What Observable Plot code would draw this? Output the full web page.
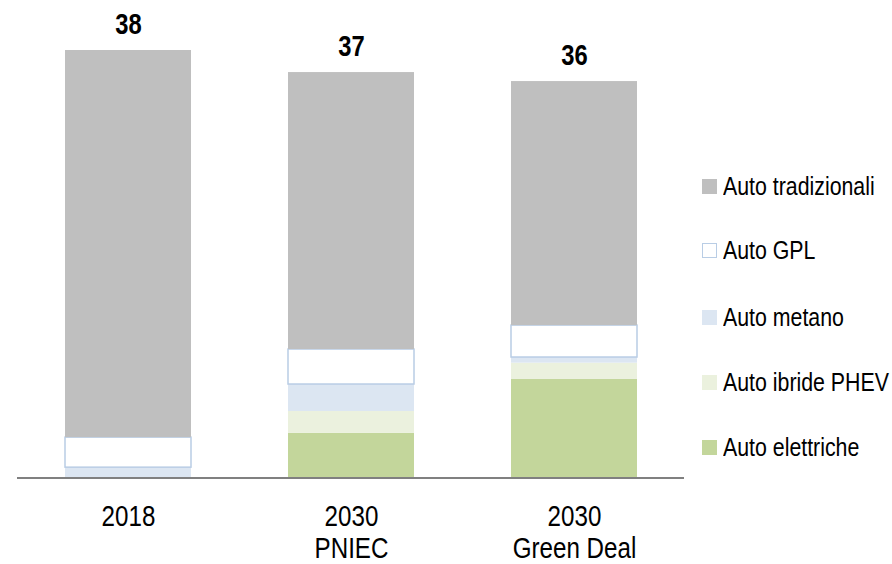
<!DOCTYPE html>
<html>
<head>
<meta charset="utf-8">
<script src="https://cdn.jsdelivr.net/npm/d3@7"></script>
<script src="https://cdn.jsdelivr.net/npm/@observablehq/plot@0.6"></script>
<style>
  html, body { margin: 0; padding: 0; background: #fff; }
  #wrap { position: relative; width: 892px; height: 564px; font-family: "Liberation Sans", Arial, sans-serif; overflow: hidden; }
  #legend { position: absolute; left: 702px; top: 0; }
  .item { position: absolute; left: 0; height: 30px; display: flex; align-items: center; white-space: nowrap; font-size: 26px; color: #000; }
  .sw { width: 15px; height: 15px; margin-right: 6px; box-sizing: border-box; flex: none; }
  .lt { display: inline-block; transform: scaleX(0.82); transform-origin: left center; }
</style>
</head>
<body>
<div id="wrap"><div id="legend"></div></div>
<script>
const categories = ["2018", "2030\nPNIEC", "2030\nGreen Deal"];
const seriesNames = ["Auto elettriche", "Auto ibride PHEV", "Auto metano", "Auto GPL", "Auto tradizionali"];
const elettriche   = [0,     3.98, 8.76];
const ibridePHEV   = [0,     1.93, 1.45];
const metano       = [0.92,  2.40, 0.50];
const gpl          = [2.67,  3.11, 2.84];
const tradizionali = [34.41, 24.62, 21.69];
const totalLabels  = ["38", "37", "36"];
const colors = ["#c3d69b", "#ebf1de", "#dce6f2", "#ffffff", "#bfbfbf"];
const legendOrder = ["Auto tradizionali", "Auto GPL", "Auto metano", "Auto ibride PHEV", "Auto elettriche"];

const seriesValues = [elettriche, ibridePHEV, metano, gpl, tradizionali];
const rows = [];
seriesNames.forEach((s, si) => {
  categories.forEach((c, ci) => rows.push({cat: c, series: s, value: seriesValues[si][ci]}));
});
const totals = categories.map((c, ci) => ({
  cat: c,
  sum: d3.sum(seriesValues, v => v[ci]),
  label: totalLabels[ci]
}));

const font = '"Liberation Sans", Arial, sans-serif';

const chart = Plot.plot({
  width: 892,
  height: 564,
  marginLeft: 17,
  marginRight: 208,
  marginTop: 50,
  marginBottom: 86.5,
  style: {fontFamily: font, background: "transparent", color: "#000"},
  x: {domain: categories, paddingInner: 0.435, paddingOuter: 0.213, label: null, axis: null},
  y: {domain: [0, 38], axis: null},
  color: {domain: seriesNames, range: colors},
  marks: [
    Plot.barY(rows, {
      x: "cat", y: "value", z: "series", fill: "series",
      stroke: d => d.series === "Auto GPL" ? "#b9cde5" : "none",
      strokeWidth: 1.5,
      style: {filter: "drop-shadow(1px 1px 1.5px rgba(0,0,0,0.18))"}
    }),
    Plot.ruleY([0], {stroke: "#808080", strokeWidth: 2}),
    Plot.text(totals, {x: "cat", y: "sum", text: "label", dy: -26, fontSize: 29, fontWeight: "bold", fill: "#000"}),
    Plot.axisX({tickSize: 0, tickPadding: 25, fontSize: 29.5, lineHeight: 1.1, label: null, fill: "#000"})
  ]
});
chart.style.position = "absolute";
chart.style.left = "0";
chart.style.top = "0";
document.getElementById("wrap").prepend(chart);

// emulate a narrow (condensed) face: wrap each text in a group compressed about its own centre
chart.querySelectorAll("text").forEach(t => {
  const g = document.createElementNS("http://www.w3.org/2000/svg", "g");
  t.parentNode.insertBefore(g, t);
  g.appendChild(t);
  g.style.transformBox = "fill-box";
  g.style.transformOrigin = "50% 50%";
  g.style.transform = "scaleX(0.82)";
});

const legend = document.getElementById("legend");
const legendTops = [171, 235, 302, 367, 432];
legendOrder.forEach((s, i) => {
  const it = document.createElement("div");
  it.className = "item";
  it.style.top = legendTops[i] + "px";
  const sw = document.createElement("div");
  sw.className = "sw";
  sw.style.background = colors[seriesNames.indexOf(s)];
  if (s === "Auto GPL") sw.style.border = "1.5px solid #b9cde5";
  const tx = document.createElement("span");
  tx.className = "lt";
  tx.textContent = s;
  it.append(sw, tx);
  legend.append(it);
});
</script>
</body>
</html>
